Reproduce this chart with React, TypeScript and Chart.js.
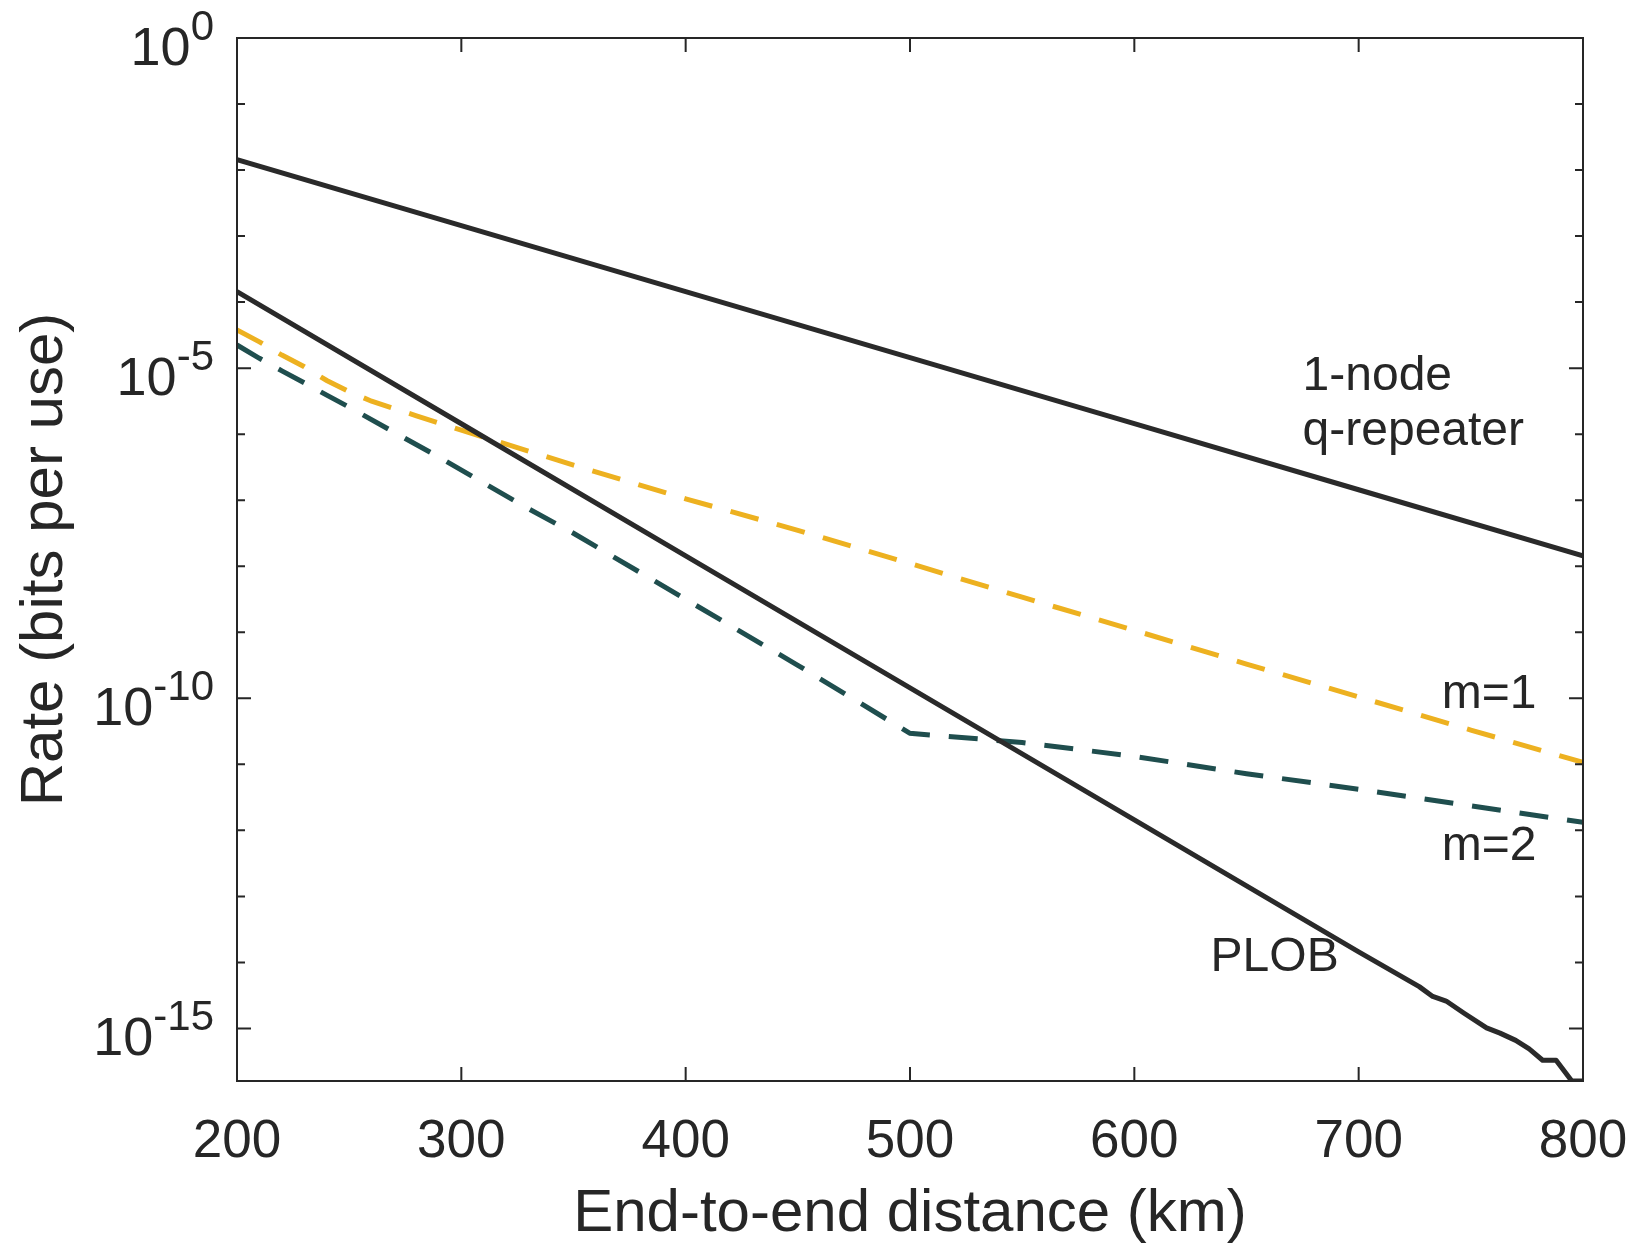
import React, { useEffect, useRef } from "react";
import { Chart, registerables } from "chart.js";

Chart.register(...registerables);

const FONT = '"Liberation Sans", Arial, Helvetica, sans-serif';
const INK = "#262626";
const ORANGE = "#EDB120";
const TEAL = "#1F4E4E";

// End-to-end distance (km) and rate (bits per use)
const oneNodeKm = [200, 300, 400, 500, 600, 700, 800];
const oneNodeRate = [1.44e-2, 1.44e-3, 1.44e-4, 1.44e-5, 1.44e-6, 1.44e-7, 1.44e-8];

const plobKm = [200, 300, 400, 500, 600, 700, 727, 733, 739, 747, 757, 763, 770, 776, 782, 788, 795, 800];
const plobRate = [
  1.44e-4, 1.44e-6, 1.44e-8, 1.44e-10, 1.44e-12, 1.44e-14, 4.3e-15, 3.05e-15, 2.6e-15,
  1.7e-15, 1.02e-15, 8.5e-16, 6.6e-16, 4.9e-16, 3.3e-16, 3.3e-16, 1.6e-16, 1.6e-16,
];

const m1Km = [200, 210, 220, 230, 240, 250, 260, 270, 280, 290, 300, 350, 400, 450, 500, 550, 600, 650, 700, 750, 800];
const m1Rate = [
  3.8e-5, 2.5e-5, 1.58e-5, 1.05e-5, 6.5e-6, 4.4e-6, 3.16e-6, 2.45e-6, 1.9e-6, 1.48e-6, 1.15e-6,
  3.4e-7, 1.05e-7, 3.5e-8, 1.1e-8, 3.4e-9, 1.07e-9, 3.3e-10, 1.05e-10, 3.3e-11, 1.07e-11,
];

const m2Km = [200, 210, 220, 230, 240, 250, 270, 290, 310, 330, 350, 400, 450, 500, 550, 600, 650, 700, 750, 800];
const m2Rate = [
  2.24e-5, 1.41e-5, 9.1e-6, 6.0e-6, 3.9e-6, 2.57e-6, 1.07e-6, 4.5e-7, 1.82e-7, 7.4e-8, 3.16e-8,
  3.16e-9, 3.16e-10, 2.95e-11, 2.14e-11, 1.32e-11, 7.2e-12, 4.2e-12, 2.35e-12, 1.32e-12,
];

const xTicks = [200, 300, 400, 500, 600, 700, 800];
const yDecades = [0, -1, -2, -3, -4, -5, -6, -7, -8, -9, -10, -11, -12, -13, -14, -15];
const yLabelExponents = [0, -5, -10, -15];

// curve labels, anchored at (km, rate) of their baseline start
const notes = [
  { text: "1-node", km: 675, rate: 4.65e-6 },
  { text: "q-repeater", km: 675, rate: 6.8e-7 },
  { text: "m=1", km: 737, rate: 7.1e-11 },
  { text: "m=2", km: 737, rate: 3.6e-13 },
  { text: "PLOB", km: 634, rate: 7.3e-15 },
];

const toPoints = (km: number[], rate: number[]) => km.map((x, i) => ({ x, y: rate[i] }));

const framePlugin = {
  id: "frame",
  afterDatasetsDraw(chart: any) {
    const { ctx, chartArea: a, scales } = chart;
    const xs = scales.x;
    const ys = scales.y;
    ctx.save();

    // curve labels
    ctx.fillStyle = INK;
    ctx.font = `48px ${FONT}`;
    ctx.textAlign = "left";
    ctx.textBaseline = "alphabetic";
    notes.forEach((n) => {
      ctx.fillText(n.text, xs.getPixelForValue(n.km), ys.getPixelForValue(n.rate));
    });

    // box and inward ticks
    ctx.strokeStyle = INK;
    ctx.lineWidth = 2;
    ctx.strokeRect(a.left, a.top, a.right - a.left, a.bottom - a.top);
    ctx.beginPath();
    yDecades.forEach((e) => {
      const py = ys.getPixelForValue(Math.pow(10, e));
      const len = e % 5 === 0 ? 14 : 8;
      ctx.moveTo(a.left, py);
      ctx.lineTo(a.left + len, py);
      ctx.moveTo(a.right, py);
      ctx.lineTo(a.right - len, py);
    });
    xTicks.forEach((v) => {
      const px = xs.getPixelForValue(v);
      ctx.moveTo(px, a.bottom);
      ctx.lineTo(px, a.bottom - 14);
      ctx.moveTo(px, a.top);
      ctx.lineTo(px, a.top + 14);
    });
    ctx.stroke();

    // y tick labels with superscript exponents
    yLabelExponents.forEach((e) => {
      const py = ys.getPixelForValue(Math.pow(10, e));
      const exp = String(e);
      ctx.font = `54px ${FONT}`;
      const wBase = ctx.measureText("10").width;
      ctx.font = `42px ${FONT}`;
      const wExp = ctx.measureText(exp).width;
      const startX = a.left - 23 - wBase - wExp;
      ctx.font = `54px ${FONT}`;
      ctx.fillText("10", startX, py + 27);
      ctx.font = `42px ${FONT}`;
      ctx.fillText(exp, startX + wBase, py + 2);
    });

    ctx.restore();
  },
};

const App: React.FC = () => {
  const canvasRef = useRef<HTMLCanvasElement | null>(null);
  const chartRef = useRef<Chart | null>(null);

  useEffect(() => {
    document.body.style.margin = "0";
    document.body.style.overflow = "hidden";
    if (!canvasRef.current) return;
    const ctx = canvasRef.current.getContext("2d");
    if (!ctx) return;
    if (chartRef.current) chartRef.current.destroy();

    const solid = { borderWidth: 5, pointRadius: 0, tension: 0, fill: false, borderJoinStyle: "round" as const };
    const dashed = { borderWidth: 5, pointRadius: 0, tension: 0, fill: false, borderDash: [29, 19] };

    chartRef.current = new Chart(ctx, {
      type: "line",
      data: {
        datasets: [
          { label: "1-node q-repeater", data: toPoints(oneNodeKm, oneNodeRate), borderColor: "#2a2a2a", ...solid },
          { label: "PLOB", data: toPoints(plobKm, plobRate), borderColor: "#2a2a2a", ...solid },
          { label: "m=1", data: toPoints(m1Km, m1Rate), borderColor: ORANGE, ...dashed },
          { label: "m=2", data: toPoints(m2Km, m2Rate), borderColor: TEAL, ...dashed },
        ],
      },
      options: {
        animation: false,
        responsive: false,
        maintainAspectRatio: false,
        layout: { padding: { top: 38, right: 53, left: 0, bottom: 0 } },
        plugins: { legend: { display: false }, tooltip: { enabled: false } },
        scales: {
          x: {
            type: "linear",
            min: 200,
            max: 800,
            grid: { display: false },
            border: { display: false },
            ticks: {
              stepSize: 100,
              maxRotation: 0,
              padding: 22,
              color: INK,
              font: { family: FONT, size: 53 },
            },
            title: {
              display: true,
              text: "End-to-end distance (km)",
              color: INK,
              font: { family: FONT, size: 60 },
              padding: { top: 0, bottom: 2 },
            },
            afterFit: (scale: any) => {
              scale.height = 171;
              scale.paddingLeft = 0;
              scale.paddingRight = 0;
            },
          },
          y: {
            type: "logarithmic",
            min: 1.6e-16,
            max: 1,
            grid: { display: false },
            border: { display: false },
            ticks: { display: false },
            title: {
              display: true,
              text: "Rate (bits per use)",
              color: INK,
              font: { family: FONT, size: 60 },
              padding: { top: 9, bottom: 0 },
            },
            afterFit: (scale: any) => {
              scale.width = 237;
            },
          },
        },
      },
      plugins: [framePlugin],
    });

    return () => {
      if (chartRef.current) {
        chartRef.current.destroy();
        chartRef.current = null;
      }
    };
  }, []);

  return (
    <div style={{ width: 1636, height: 1252, background: "#fff" }}>
      <canvas ref={canvasRef} width={1636} height={1252} style={{ display: "block" }} />
    </div>
  );
};

export default App;
